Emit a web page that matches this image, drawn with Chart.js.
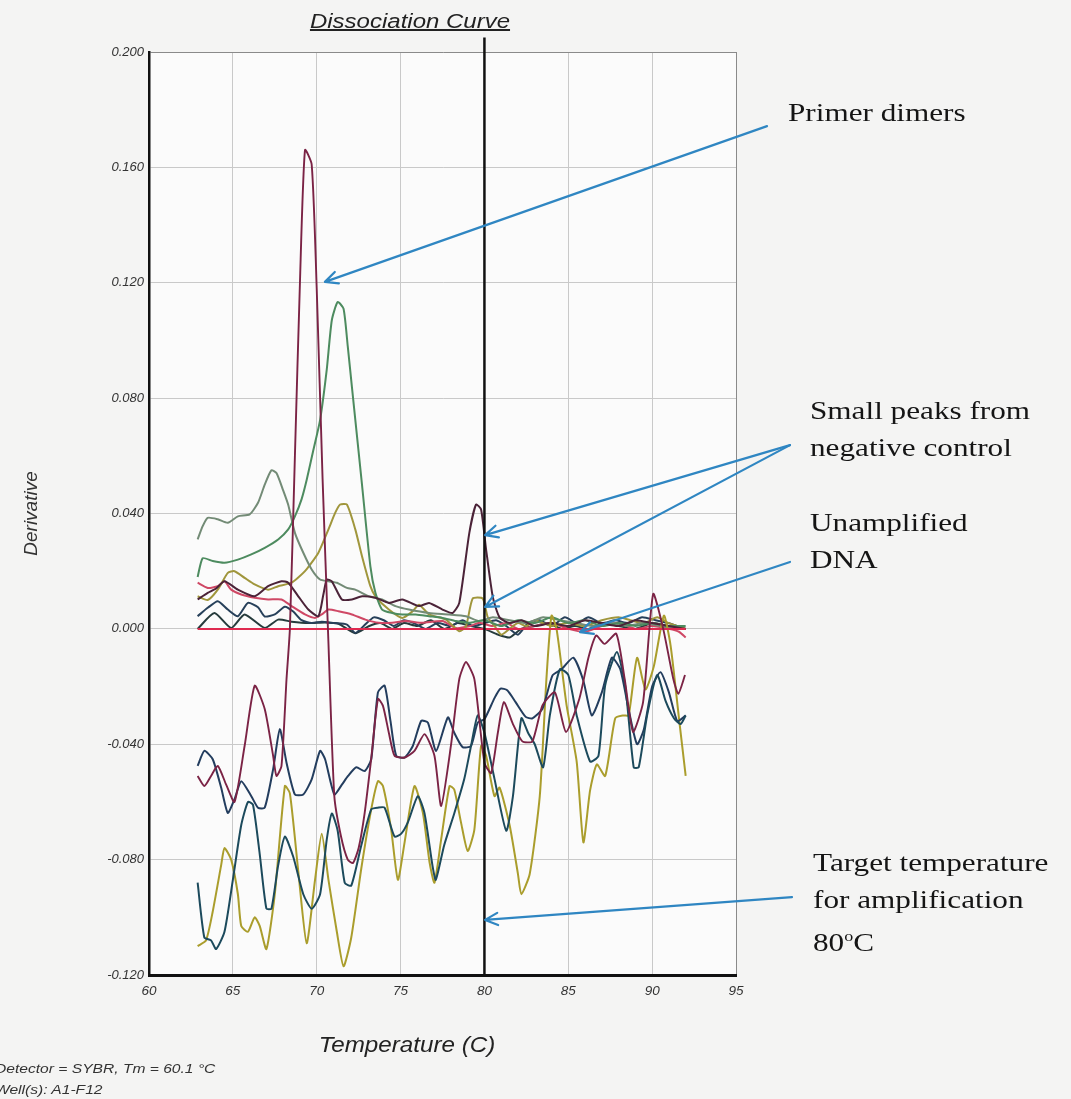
<!DOCTYPE html>
<html>
<head>
<meta charset="utf-8">
<title>Dissociation Curve</title>
<script src="https://cdn.jsdelivr.net/npm/chart.js@4.4.1/dist/chart.umd.min.js"></script>
<style>
  html, body { margin: 0; padding: 0; background: #f4f4f3; }
  #wrap { position: relative; width: 1071px; height: 1099px; overflow: hidden; }
  #chart { position: absolute; left: 0; top: 0; }
  .txt { position: absolute; white-space: nowrap; color: #222; transform-origin: 0 0; transform: scaleX(1.2); }
  .sans { font-family: "Liberation Sans", Arial, sans-serif; font-style: italic; }
  .serif { font-family: "Liberation Serif", "Times New Roman", serif; font-size: 26px; line-height: 36.7px; color: #151515; }
  #title { left: 0; width: 820px; text-align: center; top: 9px; font-size: 20px; line-height: 24px; text-decoration: underline; transform-origin: 410px 0; }
  #xtitle { left: 0; width: 814px; text-align: center; top: 1032px; font-size: 22px; line-height: 26px; transform-origin: 407px 0; transform: scaleX(1.1); }
  #foot { left: -5px; top: 1058px; font-size: 13px; line-height: 21px; color: #333; }
</style>
</head>
<body>
<div id="wrap">
  <canvas id="chart" width="1071" height="1099"></canvas>
  <div id="title" class="txt sans">Dissociation Curve</div>
  <div id="xtitle" class="txt sans">Temperature (C)</div>
  <div id="foot" class="txt sans">Detector = SYBR, Tm = 60.1 °C<br>Well(s): A1-F12</div>
  <div class="txt serif" style="left:788px; top:95px;">Primer dimers</div>
  <div class="txt serif" style="left:810px; top:393px;">Small peaks from<br>negative control</div>
  <div class="txt serif" style="left:810px; top:505px;">Unamplified<br>DNA</div>
  <div class="txt serif" style="left:813px; top:845px;">Target temperature<br>for amplification<br>80<sup style="font-size:15px">o</sup>C</div>
</div>
<script>
// axis ticks
const xTicks = [60, 65, 70, 75, 80, 85, 90, 95];
const yTicks = [-0.12, -0.08, -0.04, 0, 0.04, 0.08, 0.12, 0.16, 0.2];
const targetTemp = 80;

// curves: [temperature, derivative]
const wellPrimerDimer = [
  [62.9,-0.051],[63.3,-0.0545],[63.7,-0.051],[64.1,-0.0475],[64.6,-0.054],[65.1,-0.06],[65.7,-0.0406],
  [66.3,-0.0197],[66.9,-0.0278],[67.4,-0.044],[67.6,-0.051],[67.9,-0.0475],[68.2,-0.0174],[68.4,0],
  [68.7,0.06],[69.0,0.12],[69.3,0.166],[69.7,0.161],[70.0,0.118],[70.35,0.052],[70.7,-0.005],
  [71.05,-0.058],[71.45,-0.072],[71.85,-0.08],[72.16,-0.0812],[72.5,-0.076],[72.86,-0.0638],[73.25,-0.045],
  [73.65,-0.0243],[73.95,-0.0267],[74.3,-0.036],[74.64,-0.044],[75.24,-0.0446],[75.83,-0.0423],[76.43,-0.0365],
  [77.02,-0.044],[77.42,-0.0614],[78.0,-0.0406],[78.5,-0.0174],[78.9,-0.0115],[79.4,-0.0174],[80.0,-0.0464],
  [80.4,-0.05],[80.8,-0.036],[81.16,-0.0254],[81.7,-0.033],[82.26,-0.039],[82.86,-0.039],[83.46,-0.0265],
  [84.2,-0.022],[84.86,-0.0357],[85.66,-0.0242],[86.2,-0.01],[86.66,-0.0023],[87.16,-0.0052],[87.86,-0.0017],
  [88.36,-0.0173],[88.86,-0.0357],[89.46,-0.0254],[90.06,0.0121],[90.66,0],[91.26,-0.0173],[91.56,-0.0225],[91.96,-0.016]
];
const wellLowTeal = [
  [62.9,-0.088],[63.3,-0.107],[63.7,-0.108],[64.0,-0.111],[64.5,-0.105],[65.0,-0.087],[65.5,-0.068],
  [65.9,-0.06],[66.2,-0.061],[66.6,-0.078],[67.0,-0.097],[67.3,-0.097],[67.7,-0.082],[68.1,-0.072],
  [68.6,-0.079],[69.2,-0.092],[69.7,-0.097],[70.2,-0.092],[70.6,-0.073],[70.9,-0.064],[71.25,-0.07],
  [71.67,-0.088],[72.06,-0.089],[72.66,-0.075],[73.25,-0.0626],[73.65,-0.062],[74.05,-0.062],[74.64,-0.072],
  [75.04,-0.071],[75.44,-0.067],[76.03,-0.058],[76.43,-0.064],[76.9,-0.082],[77.1,-0.087],[77.6,-0.075],
  [78.2,-0.064],[78.8,-0.052],[79.2,-0.0406],[79.6,-0.03],[80.0,-0.036],[80.6,-0.052],[81.3,-0.07],
  [81.7,-0.058],[82.2,-0.031],[82.6,-0.036],[83.0,-0.04],[83.5,-0.048],[83.9,-0.03],[84.5,-0.014],
  [85.0,-0.016],[85.5,-0.03],[86.3,-0.046],[86.8,-0.044],[87.2,-0.0196],[87.9,-0.008],[88.4,-0.02],
  [88.9,-0.048],[89.2,-0.048],[89.7,-0.03],[90.3,-0.016],[90.8,-0.025],[91.3,-0.031],[91.7,-0.033],[92.0,-0.03]
];
const wellUpperNavy = [
  [62.9,-0.0475],[63.3,-0.0423],[63.8,-0.0452],[64.3,-0.055],[64.7,-0.0638],[65.1,-0.059],[65.5,-0.0528],
  [66.1,-0.058],[66.5,-0.062],[66.9,-0.062],[67.4,-0.0487],[67.8,-0.0348],[68.2,-0.0464],[68.7,-0.0574],
  [69.2,-0.0574],[69.7,-0.0522],[70.2,-0.0423],[70.5,-0.0452],[71.05,-0.0574],[71.5,-0.054],[71.87,-0.051],
  [72.36,-0.048],[72.86,-0.0493],[73.25,-0.0452],[73.65,-0.022],[74.05,-0.0197],[74.4,-0.032],[74.74,-0.044],
  [75.24,-0.0446],[75.73,-0.0406],[76.23,-0.0319],[76.63,-0.0325],[77.12,-0.0423],[77.82,-0.0307],[78.2,-0.036],
  [78.7,-0.041],[79.2,-0.0406],[79.6,-0.0325],[80.0,-0.0313],[80.6,-0.024],[80.96,-0.0207],[81.36,-0.0213],
  [81.86,-0.0254],[82.46,-0.0305],[82.86,-0.031],[83.46,-0.0277],[84.06,-0.0161],[84.6,-0.014],[85.3,-0.01],
  [85.9,-0.018],[86.4,-0.03],[87.0,-0.022],[87.6,-0.01],[88.1,-0.014],[88.6,-0.028],[89.1,-0.04],
  [89.5,-0.035],[90.0,-0.02],[90.5,-0.015],[91.0,-0.022],[91.5,-0.032],[92.0,-0.03]
];
const wellLowOlive = [
  [62.9,-0.11],[63.4,-0.108],[63.8,-0.098],[64.3,-0.082],[64.5,-0.076],[64.9,-0.08],[65.3,-0.092],
  [65.5,-0.103],[65.9,-0.105],[66.3,-0.1],[66.6,-0.103],[67.0,-0.111],[67.5,-0.092],[68.1,-0.0545],
  [68.4,-0.057],[68.9,-0.084],[69.4,-0.109],[69.9,-0.087],[70.3,-0.071],[70.7,-0.087],[71.2,-0.105],
  [71.6,-0.117],[72.06,-0.107],[72.66,-0.083],[73.25,-0.0626],[73.65,-0.0528],[73.95,-0.0545],[74.44,-0.0696],
  [74.84,-0.087],[75.24,-0.074],[75.83,-0.0545],[76.33,-0.0638],[76.73,-0.081],[77.02,-0.088],[77.42,-0.073],
  [77.92,-0.0545],[78.2,-0.0557],[78.6,-0.067],[79.0,-0.077],[79.4,-0.0696],[79.8,-0.0406],[80.1,-0.044],
  [80.6,-0.058],[80.9,-0.055],[81.5,-0.068],[82.0,-0.085],[82.2,-0.092],[82.7,-0.085],[83.3,-0.058],
  [83.7,-0.017],[84.0,0.0046],[84.3,0],[84.9,-0.0265],[85.5,-0.046],[85.9,-0.074],[86.3,-0.056],
  [86.7,-0.047],[87.2,-0.051],[87.8,-0.031],[88.3,-0.03],[88.6,-0.03],[89.1,-0.01],[89.6,-0.021],
  [90.1,-0.013],[90.7,0.0046],[91.1,-0.0058],[91.6,-0.031],[92.0,-0.051]
];
const negControlDark = [
  [62.9,0.0102],[63.5,0.0125],[64.0,0.014],[64.5,0.0165],[65.3,0.0136],[66.3,0.0113],[67.1,0.0148],
  [67.9,0.0165],[68.3,0.016],[68.9,0.0113],[69.5,0.0067],[70.1,0.0044],[70.4,0.012],[70.6,0.0171],
  [70.9,0.0165],[71.5,0.0102],[72.1,0.0102],[72.7,0.0113],[73.5,0.0108],[74.3,0.009],[75.1,0.0102],
  [76.1,0.0079],[76.7,0.009],[77.5,0.0067],[78.1,0.0055],[78.5,0.009],[79.1,0.0333],[79.5,0.0431],
  [79.8,0.0414],[80.1,0.0275],[80.5,0.011],[80.9,0.004],[81.5,0.002],[82.2,0.003],[83.0,0.001],
  [84.0,0.002],[85.0,0.001],[86.0,0.003],[87.0,0.002],[88.0,0.001],[89.0,0.003],[90.0,0.002],[91.0,0.001],[92.0,0]
];
const wellGreen = [
  [62.9,0.018],[63.2,0.0245],[63.8,0.0235],[64.5,0.0229],[65.3,0.024],[66.1,0.0258],[66.9,0.0281],
  [67.7,0.031],[68.3,0.0345],[68.7,0.039],[69.1,0.045],[69.4,0.0516],[69.8,0.062],[70.2,0.0724],
  [70.6,0.09],[70.9,0.107],[71.25,0.1133],[71.6,0.111],[71.85,0.098],[72.1,0.0838],[72.7,0.05],
  [73.2,0.0217],[73.5,0.0125],[73.9,0.0067],[74.5,0.0055],[75.1,0.005],[75.9,0.005],[76.7,0.0044],
  [77.5,0.0038],[78.3,0.0027],[79.1,0.0021],[80.0,0.003],[81.0,0.001],[82.0,0.003],[83.0,0.002],
  [84.0,0.004],[85.0,0.002],[86.0,0.003],[87.0,0.001],[88.0,0.002],[89.0,0.001],[90.0,0.002],[91.0,0.001],[92.0,0.001]
];
const wellGrey = [
  [62.9,0.031],[63.2,0.0356],[63.5,0.0385],[64.1,0.038],[64.7,0.0368],[65.3,0.039],[66.0,0.0397],
  [66.5,0.0437],[66.9,0.05],[67.3,0.055],[67.6,0.054],[68.0,0.048],[68.3,0.043],[68.7,0.0333],
  [69.2,0.0264],[69.7,0.0206],[70.2,0.0171],[70.7,0.0165],[71.2,0.016],[71.8,0.0142],[72.3,0.0136],
  [73.1,0.0113],[73.9,0.0102],[74.7,0.0079],[75.5,0.0067],[76.7,0.0055],[77.9,0.005],[78.9,0.0044],
  [79.7,0.0027],[80.5,0.004],[81.5,0.003],[82.5,0.002],[83.5,0.004],[84.5,0.003],[85.5,0.002],
  [86.5,0.001],[87.5,0.002],[88.5,0.001],[89.5,0.002],[90.5,0.001],[91.5,0],[92.0,0]
];
const negControlOlive = [
  [62.9,0.0113],[63.5,0.01],[64.1,0.0136],[64.7,0.0194],[65.1,0.02],[65.7,0.0177],[66.3,0.0154],
  [67.1,0.0136],[67.7,0.0148],[68.5,0.016],[69.3,0.02],[70.1,0.0264],[70.7,0.0345],[71.1,0.0402],
  [71.4,0.0431],[71.8,0.0431],[72.3,0.0345],[72.7,0.0252],[73.2,0.0148],[73.5,0.0113],[74.3,0.0067],
  [75.1,0.0038],[75.7,0.006],[76.1,0.0084],[76.7,0.005],[77.7,0.0032],[78.5,-0.0008],[78.9,0.0009],
  [79.3,0.0105],[79.9,0.0105],[80.2,0.004],[80.6,0.001],[81.0,-0.002],[81.5,0],[82.0,0.002],[82.5,0.001],
  [83.0,0.003],[83.5,0.002],[84.0,0.001],[85.0,0.002],[86.0,0.001],[87.0,0.003],[88.0,0.004],[88.7,0.003],
  [89.5,0.002],[90.3,0.004],[91.0,0.002],[92.0,0]
];
const wellPink = [
  [62.9,0.016],[63.5,0.0142],[64.1,0.0148],[64.5,0.0165],[64.9,0.0136],[65.5,0.0119],[66.3,0.0108],
  [67.1,0.0102],[67.9,0.0102],[68.5,0.0079],[69.3,0.005],[69.9,0.0038],[70.3,0.005],[70.7,0.0067],
  [71.3,0.0061],[72.1,0.005],[72.9,0.0032],[73.7,0.0021],[74.5,0.0021],[75.3,0.0027],[76.3,0.0021],
  [77.5,0.0027],[78.3,0.0003],[79.1,0.0009],[79.7,0.0021],[80.5,0.001],[81.3,0.002],[82.0,0],[83.0,0.001],
  [84.0,0.002],[85.0,0],[86.0,-0.001],[87.0,0.001],[88.0,0.002],[89.0,0],[90.0,0.001],[91.0,0],[91.6,-0.001],[92.0,-0.003]
];
const wellNavyFlat = [
  [62.9,0.0044],[63.5,0.0073],[64.1,0.0096],[64.7,0.0067],[65.3,0.0044],[65.9,0.009],[66.5,0.0075],
  [66.9,0.0043],[67.5,0.005],[68.1,0.0077],[68.6,0.006],[69.1,0.003],[69.7,0.002],[70.3,0.0025],
  [71.0,0.002],[71.8,0.0015],[72.3,-0.0014],[72.8,0.001],[73.4,0.004],[74.0,0.003],[74.6,0.001],
  [75.2,0.003],[75.8,0.002],[76.5,0],[77.2,0.002],[78.0,0.001],[78.7,0.003],[79.3,0.001],[80.0,0.002],
  [80.7,0.003],[81.3,0.001],[82.0,-0.002],[82.6,0.002],[83.3,0.003],[84.0,0.001],[84.8,0.004],[85.5,0.002],
  [86.2,0.004],[87.0,0.002],[87.8,0.003],[88.6,0.002],[89.4,0.004],[90.2,0.003],[91.0,0.002],[92.0,0]
];
const wellDarkFlat = [
  [62.9,0],[63.9,0.0055],[64.9,0.0003],[65.7,0.005],[66.9,0.0003],[67.7,0.0032],[68.5,0.0025],
  [69.5,0.002],[70.5,0.0022],[71.3,0.0018],[72.3,-0.0015],[73.1,0.0009],[73.8,0.002],[74.5,0],
  [75.2,0.002],[76.0,0.001],[76.8,0.003],[77.6,0],[78.4,0.002],[79.2,0.001],[80.0,0],[80.8,-0.002],
  [81.5,-0.003],[82.2,0],[83.0,0.001],[83.8,0.002],[84.6,0],[85.4,0.001],[86.2,0],[87.0,0.002],
  [88.0,0.001],[89.0,0],[90.0,0.002],[91.0,0.001],[92.0,0]
];
const noTemplate = [[62.9,0],[92.0,0]];

// annotation arrows in data units: [temp, derivative] tail -> head
const arrowTails = [[96.85,0.1743],[98.22,0.0637],[98.22,0.0637],[98.22,0.0232],[98.34,-0.093]];
const arrowHeads = [[70.49,0.1203],[80.04,0.0325],[80.04,0.0076],[85.7,-0.0011],[80.04,-0.1009]];
const targetLineTop = 0.205;

const traces = [
  { label: 'Primer dimer well', data: wellPrimerDimer, color: '#7b2345', width: 1.9 },
  { label: 'No template', data: noTemplate, color: '#df2a50', width: 2 },
  { label: 'Well lower teal', data: wellLowTeal, color: '#1c4a5c', width: 2 },
  { label: 'Well upper navy', data: wellUpperNavy, color: '#233d5e', width: 2 },
  { label: 'Well olive', data: wellLowOlive, color: '#aa9d2c', width: 2 },
  { label: 'Negative control 1', data: negControlDark, color: '#4b2338', width: 2 },
  { label: 'Well green', data: wellGreen, color: '#4d8b5f', width: 2 },
  { label: 'Well grey', data: wellGrey, color: '#738b76', width: 2 },
  { label: 'Negative control 2', data: negControlOlive, color: '#a0963c', width: 2 },
  { label: 'Well pink', data: wellPink, color: '#cf4865', width: 2 },
  { label: 'Well navy', data: wellNavyFlat, color: '#27405a', width: 2 },
  { label: 'Well dark', data: wellDarkFlat, color: '#263b3c', width: 2 }
];

function fmt(v) {
  return (Math.abs(v) < 1e-9 ? 0 : v).toFixed(3);
}

function drawArrow(ctx, x0, y0, x1, y1) {
  const ang = Math.atan2(y1 - y0, x1 - x0);
  const len = 14, spread = 0.45;
  ctx.beginPath();
  ctx.moveTo(x0, y0);
  ctx.lineTo(x1, y1);
  ctx.moveTo(x1 - len * Math.cos(ang - spread), y1 - len * Math.sin(ang - spread));
  ctx.lineTo(x1, y1);
  ctx.lineTo(x1 - len * Math.cos(ang + spread), y1 - len * Math.sin(ang + spread));
  ctx.stroke();
}

// plot background, target line and arrows
const decor = {
  id: 'decor',
  beforeDraw(chart) {
    const { ctx, chartArea: a } = chart;
    ctx.save();
    ctx.fillStyle = '#fbfbfb';
    ctx.fillRect(a.left, a.top, a.right - a.left, a.bottom - a.top);
    ctx.restore();
  },
  afterDatasetsDraw(chart) {
    const { ctx, scales: { x, y }, chartArea: a } = chart;
    ctx.save();
    const tx = x.getPixelForValue(targetTemp);
    ctx.strokeStyle = '#111';
    ctx.lineWidth = 2.5;
    ctx.beginPath();
    ctx.moveTo(tx, y.getPixelForValue(targetLineTop));
    ctx.lineTo(tx, a.bottom);
    ctx.stroke();

    ctx.strokeStyle = '#2f86c2';
    ctx.lineWidth = 2.2;
    ctx.lineCap = 'round';
    ctx.lineJoin = 'round';
    arrowTails.forEach((t, i) => {
      const h = arrowHeads[i];
      drawArrow(ctx, x.getPixelForValue(t[0]), y.getPixelForValue(t[1]),
                x.getPixelForValue(h[0]), y.getPixelForValue(h[1]));
    });
    ctx.restore();
  }
};

const ctx = document.getElementById('chart').getContext('2d');
new Chart(ctx, {
  type: 'line',
  data: {
    datasets: traces.map(t => ({
      label: t.label,
      data: t.data.map(p => ({ x: p[0], y: p[1] })),
      borderColor: t.color,
      backgroundColor: t.color,
      borderWidth: t.width,
      pointRadius: 0,
      tension: 0.2,
      fill: false
    }))
  },
  options: {
    responsive: false,
    animation: false,
    layout: { padding: { left: 0, top: 52, right: 335, bottom: 44 } },
    plugins: {
      legend: { display: false },
      tooltip: { enabled: false },
      title: { display: false }
    },
    scales: {
      x: {
        type: 'linear',
        min: xTicks[0],
        max: xTicks[xTicks.length - 1],
        afterBuildTicks: s => { s.ticks = xTicks.map(v => ({ value: v })); },
        afterFit: s => { s.height = 80; },
        ticks: {
          color: '#333',
          padding: 8,
          maxRotation: 0,
          font: { family: 'Liberation Sans', style: 'italic', size: 13.5 },
          callback: v => String(v)
        },
        grid: {
          drawTicks: false,
          color: c => (c.tick && c.tick.value === 95 ? '#8a8a8a' : '#c9c9c9'),
          lineWidth: 1
        },
        border: { color: '#111', width: 3 }
      },
      y: {
        min: yTicks[0],
        max: yTicks[yTicks.length - 1],
        afterBuildTicks: s => { s.ticks = yTicks.map(v => ({ value: v })); },
        afterFit: s => { s.width = 149; },
        ticks: {
          color: '#333',
          padding: 5,
          font: { family: 'Liberation Sans', style: 'italic', size: 13 },
          callback: v => fmt(v)
        },
        grid: {
          drawTicks: false,
          color: c => (c.tick && c.tick.value === 0.2 ? '#8a8a8a' : '#c9c9c9'),
          lineWidth: 1
        },
        border: { color: '#111', width: 2.5 },
        title: {
          display: true,
          text: 'Derivative',
          color: '#333',
          padding: { top: 20, bottom: 0 },
          font: { family: 'Liberation Sans', style: 'italic', size: 19 }
        }
      }
    }
  },
  plugins: [decor]
});
</script>
</body>
</html>
